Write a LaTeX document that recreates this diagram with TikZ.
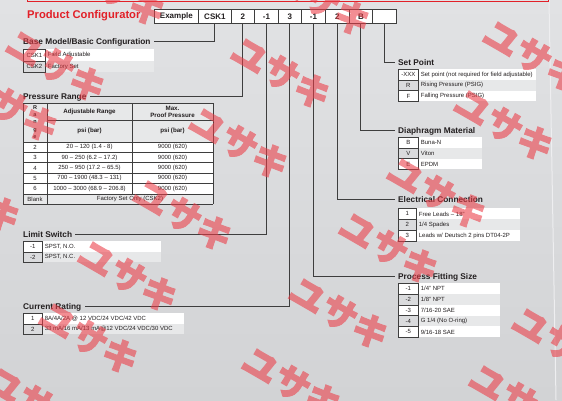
\documentclass[tikz,border=0pt]{standalone}
\usepackage{fontspec}
\setmainfont{Liberation Sans}
\newfontfamily\cjk{Noto Sans CJK JP}[FakeBold=2.5]
\definecolor{pagetop}{RGB}{225,226,228}
\definecolor{pagebot}{RGB}{210,211,213}
\definecolor{rowgray}{RGB}{231,232,233}
\definecolor{codegray}{RGB}{218,219,221}
\definecolor{linec}{RGB}{62,62,62}
\definecolor{txt}{RGB}{35,31,32}
\definecolor{titlered}{RGB}{226,32,40}
\definecolor{wmred}{RGB}{236,60,70}
\definecolor{edgec}{RGB}{238,238,240}
\newcommand\optsection[7]{%
  \foreach \c/\d [count=\i] in {#7} {
    \ifodd\i\relax\def\rowfill{white}\def\codefill{white}\else\def\rowfill{rowgray}\def\codefill{codegray}\fi
    \node[optrow, fill=\rowfill, minimum width=#6pt, minimum height=#4pt] (#1-row-\i) at (#2, {#3+(\i-1)*#4}) {};
    \node[optcode, fill=\codefill, minimum width=#5pt, minimum height=#4pt] (#1-code-\i) at (#2, {#3+(\i-1)*#4}) {\c};
    \node[opttext] (#1-text-\i) at ([xshift=2pt]#1-code-\i.east) {\d};
  }%
}
\begin{document}
\begin{tikzpicture}[x=1pt,y=-1pt,
  conn/.style={draw=linec, line width=0.9pt},
  hdrbox/.style={draw=linec, line width=0.8pt, fill=white, anchor=north west, minimum height=14pt, inner sep=0pt, font=\fontsize{8}{9}\selectfont\bfseries, text=txt},
  heading/.style={anchor=west, inner sep=0pt, text height=6.2pt, text depth=0.2pt, font=\fontsize{8.3}{9}\selectfont\bfseries, text=txt},
  optrow/.style={anchor=north west, inner sep=0pt, draw=none},
  optcode/.style={anchor=north west, inner sep=0pt, draw=linec, line width=0.7pt, font=\fontsize{6}{7}\selectfont, text=txt},
  opttext/.style={anchor=west, inner sep=0pt, font=\fontsize{6}{7}\selectfont, text=txt},
  cell/.style={inner sep=0pt, font=\fontsize{6}{7}\selectfont, text=txt, align=center},
  cellb/.style={inner sep=0pt, font=\fontsize{6.2}{7.2}\selectfont\bfseries, text=txt, align=center},
  tline/.style={draw=linec, line width=0.7pt},
  wm/.style={anchor=west, inner sep=0pt, rotate=-30, font=\cjk\bfseries\fontsize{36}{36}\selectfont, text=wmred}
]
% background
\useasboundingbox (0,0) rectangle (562,400);
\shade[top color=pagetop, bottom color=pagebot] (0,0) rectangle (562,400);
\draw[edgec, line width=1pt] (549,0) -- (556,400);
\draw[titlered, line width=0.8pt] (27,-3) -- (27,1.5) -- (548,1.5) -- (548,-3);

% title
\node[anchor=west, inner sep=0pt, font=\fontsize{11.2}{12}\selectfont\bfseries, text=titlered] (title) at (27,16) {Product Configurator};

% header boxes
\node[hdrbox, minimum width=44pt] (hex) at (154,9) {Example};
\node[hdrbox, minimum width=33pt] (hcsk) at (198,9) {CSK1};
\node[hdrbox, minimum width=23pt] (hr) at (231,9) {2};
\node[hdrbox, minimum width=24pt] (hls) at (254,9) {-1};
\node[hdrbox, minimum width=23pt] (hcr) at (278,9) {3};
\node[hdrbox, minimum width=24pt] (hpf) at (301,9) {-1};
\node[hdrbox, minimum width=24pt] (hec) at (325,9) {2};
\node[hdrbox, minimum width=23pt] (hdm) at (349,9) {B};
\node[hdrbox, minimum width=24pt] (hsp) at (372,9) {};

% headings
\node[heading] (hbase) at (23,41) {Base Model/Basic Configuration};
\node[heading] (hpress) at (23,96) {Pressure Range};
\node[heading] (hlimit) at (23,234) {Limit Switch};
\node[heading] (hcurrent) at (23,306) {Current Rating};
\node[heading] (hset) at (398,62) {Set Point};
\node[heading] (hdia) at (398,130) {Diaphragm Material};
\node[heading] (helec) at (398,199) {Electrical Connection};
\node[heading] (hproc) at (398,276) {Process Fitting Size};

% connectors
\draw[conn] (hcsk.south) |- ([xshift=3pt]hbase.east);
\draw[conn] (hr.south) |- ([xshift=3pt]hpress.east);
\draw[conn] (hls.south) |- ([xshift=3pt]hlimit.east);
\draw[conn] (hcr.south) |- ([xshift=3pt]hcurrent.east);
\draw[conn] (hpf.south) |- ([xshift=-3pt]hproc.west);
\draw[conn] (hec.south) |- ([xshift=-3pt]helec.west);
\draw[conn] (hdm.south) |- ([xshift=-3pt]hdia.west);
\draw[conn] (hsp.south) |- ([xshift=-3pt]hset.west);

% option tables
\optsection{base}{23}{49}{11.5}{22}{131}{CSK1/Field Adjustable, CSK2/Factory Set}
\optsection{limit}{23}{241}{10.5}{19}{138}{-1/{SPST, N.O.}, -2/{SPST, N.C.}}
\optsection{curr}{23}{313}{10.5}{19}{161}{1/{8A/4A/2A @ 12 VDC/24 VDC/42 VDC}, 2/{33 mA/16 mA/13 mA@12 VDC/24 VDC/30 VDC}}
\optsection{set}{398}{69}{10.67}{20}{138}{-XXX/{Set point (not required for field adjustable)}, R/{Rising Pressure (PSIG)}, F/{Falling Pressure (PSIG)}}
\optsection{dia}{398}{137}{10.67}{20}{84}{B/Buna-N, V/Viton, E/EPDM}
\optsection{elec}{398}{208}{11}{18}{122}{1/{Free Leads -- 18"}, 2/{1/4 Spades}, 3/{Leads w/ Deutsch 2 pins DT04-2P}}
\optsection{proc}{398}{283}{10.8}{20}{102}{-1/{1/4" NPT}, -2/{1/8" NPT}, -3/{7/16-20 SAE}, -4/{G 1/4 (No O-ring)}, -5/{9/16-18 SAE}}

% pressure range table
\fill[rowgray] (23,103) rectangle (213,142);
\fill[white] (23,142) rectangle (213,194);
\fill[rowgray] (23,194) rectangle (213,204);
\foreach \yy in {103,142,152.4,162.8,173.2,183.6,194,204}
  \draw[tline] (23,\yy) -- (213,\yy);
\draw[tline] (47,120) -- (213,120);
\draw[tline] (23,103) -- (23,204);
\draw[tline] (47,103) -- (47,204);
\draw[tline] (132,103) -- (132,194);
\draw[tline] (213,103) -- (213,204);
\node[cellb, font=\fontsize{5.5}{7.2}\selectfont\bfseries] (prange) at (35,122) {R\\a\\n\\g\\e};
\node[cellb] (padj) at (89.5,111.5) {Adjustable Range};
\node[cellb] (ppsi1) at (89.5,131) {psi (bar)};
\node[cellb] (pmax) at (172.5,111.5) {Max.\\Proof Pressure};
\node[cellb] (ppsi2) at (172.5,131) {psi (bar)};
\foreach \r/\a [count=\k] in {2/{20 -- 120 (1.4 - 8)}, 3/{90 -- 250 (6.2 -- 17.2)}, 4/{250 -- 950 (17.2 -- 65.5)}, 5/{700 -- 1900 (48.3 -- 131)}, 6/{1000 -- 3000 (68.9 -- 206.8)}} {
  \node[cell] (pr\k) at (35,{142+(\k-0.5)*10.4}) {\r};
  \node[cell] (pa\k) at (89.5,{142+(\k-0.5)*10.4}) {\a};
  \node[cell] (pm\k) at (172.5,{142+(\k-0.5)*10.4}) {9000 (620)};
}
\node[cell] (pblank) at (35,199) {Blank};
\node[cell] (pfact) at (130,199) {Factory Set Only (CSK2)};

% watermark
\begin{scope}[transparency group, opacity=0.58]
\foreach \wx/\wy [count=\k] in {25/48, 250/55, 502/38, 208/125, 473/107, -22/88, 152/197, 406/175, 97/258, 358/230, 308/295, 531/325, 261/365, 488/382, 58/320, 5/385, -60/178, 290/-18, 85/-28}
  \node[wm] (wm\k) at (\wx-15.6,\wy-9) {ユサキ};
\end{scope}
\end{tikzpicture}
\end{document}
